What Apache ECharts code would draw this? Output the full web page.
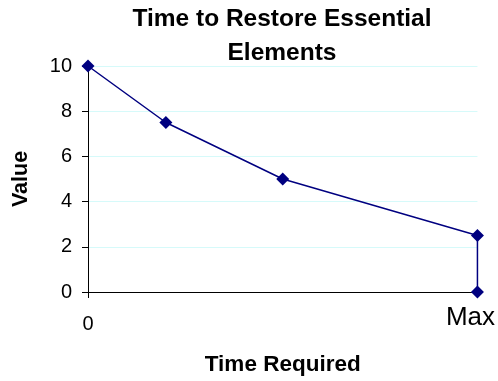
<!DOCTYPE html>
<html>
<head>
<meta charset="utf-8">
<script src="https://cdn.jsdelivr.net/npm/echarts@6/dist/echarts.min.js"></script>
<style>html,body{margin:0;padding:0;background:#fff;}#c{width:498px;height:381px;}</style>
</head>
<body>
<div id="c"></div>
<script>
var titleText = 'Time to Restore Essential\nElements';
var xName = 'Time Required';
var yName = 'Value';
var xValues = [0, 0.2, 0.5, 1, 1];
var yValues = [10, 7.5, 5, 2.5, 0];
var xTickLabels = {0: '0', 1: 'Max'};

var points = xValues.map(function (x, i) { return [x, yValues[i]]; });
var chart = echarts.init(document.getElementById('c'), null, {renderer: 'canvas'});
chart.setOption({
  animation: false,
  backgroundColor: '#ffffff',
  title: {
    text: titleText,
    left: 282, textAlign: 'center', top: 2, padding: 0,
    textStyle: {fontFamily: 'Liberation Sans, Arial, sans-serif', fontWeight: 'bold', fontSize: 24.5, lineHeight: 34, color: '#000'}
  },
  grid: {left: 88, right: 18, top: 66, bottom: 87},
  xAxis: {
    type: 'value', min: 0, max: 1, interval: 1,
    name: xName, nameLocation: 'middle', nameGap: 61,
    nameTextStyle: {fontFamily: 'Liberation Sans, Arial, sans-serif', fontWeight: 'bold', fontSize: 22.5, color: '#000'},
    axisLine: {show: true, lineStyle: {color: '#000', width: 1}},
    axisTick: {show: true, length: 6, lineStyle: {color: '#000'}},
    splitLine: {show: false},
    axisLabel: {
      margin: 13,
      formatter: function (v) { return v === 0 ? '{z|' + xTickLabels[0] + '}' : '{m|' + xTickLabels[1] + '}'; },
      rich: {
        z: {fontFamily: 'Liberation Sans, Arial, sans-serif', fontSize: 20, color: '#000', padding: [9, 0, 0, 0]},
        m: {fontFamily: 'Liberation Sans, Arial, sans-serif', fontSize: 26, color: '#000', padding: [0, 14, 0, 0]}
      }
    }
  },
  yAxis: {
    type: 'value', min: 0, max: 10, interval: 2,
    name: yName, nameLocation: 'middle', nameGap: 56, nameRotate: 90,
    nameTextStyle: {fontFamily: 'Liberation Sans, Arial, sans-serif', fontWeight: 'bold', fontSize: 21.5, color: '#000'},
    axisLine: {show: true, lineStyle: {color: '#000', width: 1}},
    axisTick: {show: true, length: 6, lineStyle: {color: '#000'}},
    splitLine: {show: true, lineStyle: {color: '#d6fafa', width: 1}},
    axisLabel: {margin: 16, fontFamily: 'Liberation Sans, Arial, sans-serif', fontSize: 20, color: '#000'}
  },
  series: [{
    type: 'line',
    data: points,
    symbol: 'diamond', symbolSize: 13,
    itemStyle: {color: '#000080'},
    lineStyle: {color: '#000080', width: 1.5}
  }]
});
</script>
</body>
</html>
